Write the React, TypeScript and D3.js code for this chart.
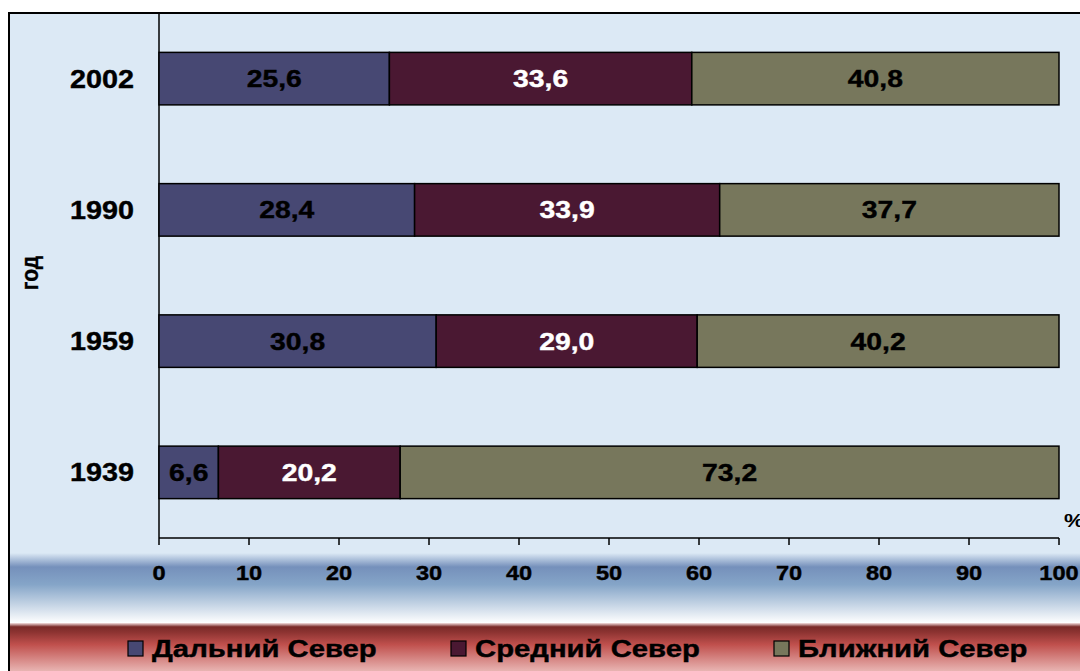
import React from "react";
import * as d3 from "d3";

const years = ["2002", "1990", "1959", "1939"];
const farNorth = [25.6, 28.4, 30.8, 6.6];
const midNorth = [33.6, 33.9, 29.0, 20.2];
const nearNorth = [40.8, 37.7, 40.2, 73.2];
const seriesNames = ["Дальний Север", "Средний Север", "Ближний Север"];
const seriesColors = ["#474873", "#4a1832", "#77775c"];
const labelColors = ["#000000", "#ffffff", "#000000"];
const xTicks = [0, 10, 20, 30, 40, 50, 60, 70, 80, 90, 100];

const FONT = "'Liberation Sans', Arial, sans-serif";
const SX = 1.18;

export default function App() {
  const W = 1080, H = 671;
  const left = 159, right = 1059, top = 13, bottom = 538;
  const x = d3.scaleLinear().domain([0, 100]).range([left, right]);
  const y = d3.scaleBand().domain(years).range([top, bottom]).paddingInner(0.6).paddingOuter(0.3);
  const series = [farNorth, midNorth, nearNorth];

  const rows = years.map((yr, i) => {
    let acc = 0;
    return series.map((s, k) => {
      const x0 = acc;
      acc += s[i];
      return { yr, k, x0, x1: acc, v: s[i] };
    });
  });

  const fmt = (v: number) => v.toFixed(1).replace(".", ",");

  return (
    <svg width={W} height={H} style={{ position: "absolute", left: 0, top: 0 }}>
      <defs>
        <linearGradient id="blueBand" x1="0" y1="0" x2="0" y2="1">
          <stop offset="0" stopColor="#dce9f5" />
          <stop offset="0.2" stopColor="#7590bb" />
          <stop offset="0.45" stopColor="#85a5c8" />
          <stop offset="1" stopColor="#ffffff" />
        </linearGradient>
        <linearGradient id="redBand" x1="0" y1="0" x2="0" y2="1">
          <stop offset="0" stopColor="#f5e0e0" />
          <stop offset="0.08" stopColor="#7a2a28" />
          <stop offset="0.2" stopColor="#8e3432" />
          <stop offset="0.45" stopColor="#c0504d" />
          <stop offset="1" stopColor="#e8b4b2" />
        </linearGradient>
      </defs>
      <rect x={0} y={0} width={W} height={H} fill="#ffffff" />
      <rect x={9} y={13} width={W} height={H} fill="#dce9f5" />
      <rect x={9} y={553} width={W} height={70} fill="url(#blueBand)" />
      <rect x={9} y={623} width={W} height={48} fill="url(#redBand)" />
      <rect x={9} y={13} width={W + 10} height={H + 10} fill="none" stroke="#000" strokeWidth={2} />

      {/* axes */}
      <line x1={left} x2={left} y1={top} y2={bottom} stroke="#000" strokeWidth={1.5} />
      <line x1={left} x2={right} y1={bottom} y2={bottom} stroke="#000" strokeWidth={1.5} />
      {xTicks.map((t) => (
        <g key={t}>
          <line x1={x(t)} x2={x(t)} y1={bottom} y2={bottom + 7} stroke="#000" strokeWidth={1.5} />
          <text
            transform={`translate(${x(t)},${580}) scale(${SX},1)`}
            textAnchor="middle"
            fontFamily={FONT}
            fontWeight="bold"
            fontSize={20}
            fill="#000"
            stroke="#000"
            strokeWidth={0.4}
          >
            {t}
          </text>
        </g>
      ))}
      <text transform={`translate(1064,527) scale(${SX},1)`} textAnchor="start" fontFamily={FONT} fontWeight="bold" fontSize={19}>%</text>

      {/* y labels */}
      {years.map((yr) => (
        <text
          key={yr}
          transform={`translate(134,${(y(yr) as number) + y.bandwidth() / 2 + 9}) scale(1.15,1)`}
          textAnchor="end"
          fontFamily={FONT}
          fontWeight="bold"
          fontSize={25}
          stroke="#000"
          strokeWidth={0.4}
        >
          {yr}
        </text>
      ))}
      <text
        transform={`translate(38,273) scale(1.18,1) rotate(-90)`}
        textAnchor="middle"
        fontFamily={FONT}
        fontWeight="bold"
        fontSize={21}
        stroke="#000"
        strokeWidth={0.3}
      >
        год
      </text>

      {/* bars */}
      {rows.map((r) =>
        r.map((seg) => (
          <g key={seg.yr + seg.k}>
            <rect
              x={x(seg.x0)}
              y={y(seg.yr)}
              width={x(seg.x1) - x(seg.x0)}
              height={y.bandwidth()}
              fill={seriesColors[seg.k]}
              stroke="#000"
              strokeWidth={1.5}
            />
            <text
              transform={`translate(${(x(seg.x0) + x(seg.x1)) / 2},${(y(seg.yr) as number) + y.bandwidth() / 2 + 8.5}) scale(${SX},1)`}
              textAnchor="middle"
              fontFamily={FONT}
              fontWeight="bold"
              fontSize={24}
              fill={labelColors[seg.k]}
              stroke={labelColors[seg.k]}
              strokeWidth={0.4}
            >
              {fmt(seg.v)}
            </text>
          </g>
        ))
      )}

      {/* legend */}
      {seriesNames.map((n, k) => {
        const lx = [128, 451, 774][k];
        return (
          <g key={n}>
            <rect x={lx} y={641} width={15} height={15} fill={seriesColors[k]} stroke="#000" strokeWidth={1.2} />
            <text
              transform={`translate(${lx + 24},${657}) scale(1.22,1)`}
              fontFamily={FONT}
              fontWeight="bold"
              fontSize={24}
              stroke="#000"
              strokeWidth={0.4}
            >
              {n}
            </text>
          </g>
        );
      })}
    </svg>
  );
}
